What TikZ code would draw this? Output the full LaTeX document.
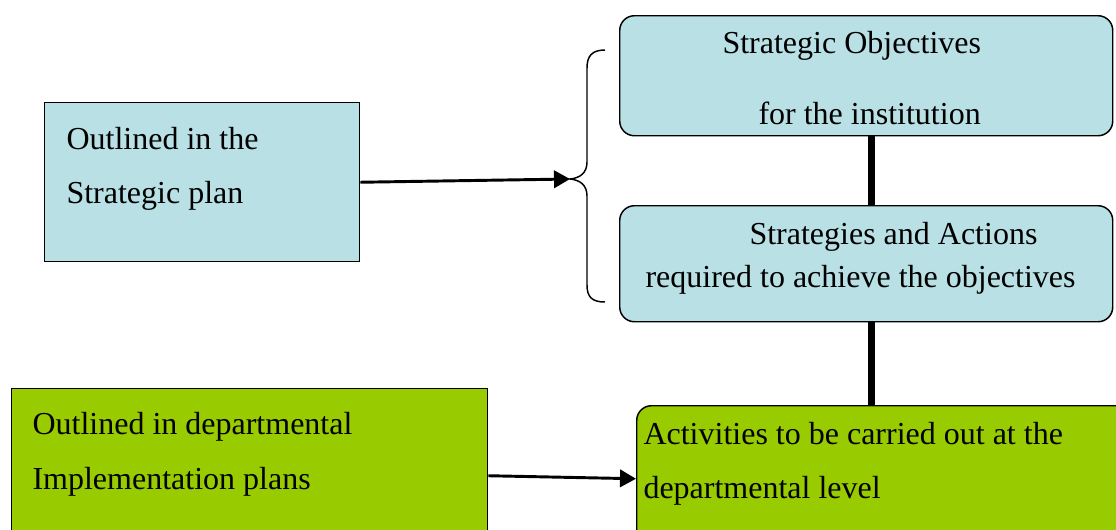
\documentclass[tikz,border=0pt]{standalone}
\usepackage{fontspec}
\setmainfont{Liberation Serif}
\usetikzlibrary{arrows.meta}
\tikzset{every picture/.style={line width=0.75pt}}
\definecolor{planblue}{RGB}{185,224,228}
\definecolor{deptgreen}{RGB}{153,204,0}

\begin{document}
\begin{tikzpicture}[x=0.75pt,y=0.75pt,yscale=-1,xscale=1,
  bluebox/.style={draw,line width=1.1pt,fill=planblue,anchor=north west,inner sep=0pt},
  greenbox/.style={draw,line width=1.1pt,fill=deptgreen,anchor=north west,inner sep=0pt},
  boxtext/.style={anchor=base west,inner sep=0pt,font=\fontsize{24}{29}\selectfont},
  linkarrow/.style={line width=2.2pt,-{Triangle[length=12pt,width=13pt]}},
  joinline/.style={line width=5pt}]
\useasboundingbox (0,0) rectangle (1116,529);
\clip (0,0) rectangle (1116,529);

%Shape: Rectangle [strategic plan]
\node [bluebox,minimum width=236.25pt,minimum height=119.25pt] (stratplan) at (44,102) {};
%Shape: Rounded Rect [objectives]
\node [bluebox,rounded corners=11pt,minimum width=369.75pt,minimum height=90pt] (objectives) at (619,15) {};
%Shape: Rounded Rect [strategies]
\node [bluebox,rounded corners=11pt,minimum width=369.75pt,minimum height=87pt] (strategies) at (619,205) {};
%Shape: Rounded Rect [activities]
\node [greenbox,rounded corners=11pt,minimum width=385.5pt,minimum height=109.5pt] (activities) at (636,405) {};
%Shape: Rectangle [departmental plans]
\node [greenbox,minimum width=357pt,minimum height=130.5pt] (deptplan) at (11,388) {};

%Curve Lines [brace]
\coordinate (bracetip) at (570,179);
\draw [line width=1.1pt] (605,50) .. controls (592,50) and (587,56) .. (587,68) -- (587,162) .. controls (587,173) and (580,178) .. (bracetip) .. controls (580,180) and (587,185) .. (587,196) -- (587,285) .. controls (587,297) and (592,302) .. (605,302) ;

%Straight Lines [arrows]
\draw [linkarrow] (stratplan.east) -- (bracetip) ;
\draw [linkarrow] (deptplan.east) -- (activities.west) ;

%Straight Lines [thick links]
\coordinate (linkA) at ([xshift=4pt]objectives.south);
\coordinate (linkB) at ([xshift=4pt]strategies.south);
\draw [joinline] (linkA) -- (linkA |- strategies.north) ;
\draw [joinline] (linkB) -- (linkB |- activities.north) ;

% Text Node
\node [boxtext] (txtplanA) at (66,149) {Outlined in the};
% Text Node
\node [boxtext] (txtplanB) at (66,203) {Strategic plan};
% Text Node
\node [boxtext] (txtobjA) at (722,53) {Strategic Objectives};
% Text Node
\node [boxtext] (txtobjB) at (758,124) {for the institution};
% Text Node
\node [boxtext] (txtstrA) at (749,244) {Strategies and Actions};
% Text Node
\node [boxtext] (txtstrB) at (645,287) {required to achieve the objectives};
% Text Node
\node [boxtext] (txtactA) at (643,444) {Activities to be carried out at the};
% Text Node
\node [boxtext] (txtactB) at (643,498) {departmental level};
% Text Node
\node [boxtext] (txtdeptA) at (32,434) {Outlined in departmental};
% Text Node
\node [boxtext] (txtdeptB) at (32,489) {Implementation plans};

\end{tikzpicture}
\end{document}
